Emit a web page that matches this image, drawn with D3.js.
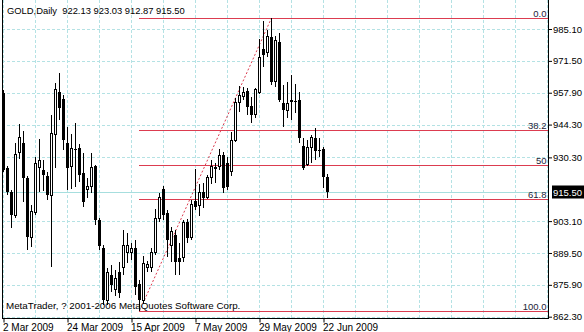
<!DOCTYPE html>
<html>
<head>
<meta charset="utf-8">
<script src="https://cdn.jsdelivr.net/npm/d3@7"></script>
<style>
  html, body { margin: 0; padding: 0; background: #fff; }
  svg { display: block; font-family: "Liberation Sans", Arial, sans-serif; }
</style>
</head>
<body>
<svg id="chart" width="584" height="332"></svg>
<script>
// daily bars, 2 Mar 2009 = bar 0
const opens = [957.8, 925.8, 915.5, 905.7, 932.2, 936.4, 921.5, 896.3, 906.6, 925.8,
  924.9, 922.4, 914.2, 939.9, 958.2, 955.2, 936.4, 926.2, 933.9, 934.3,
  923.6, 916.8, 917.7, 926.6, 903.6, 891.6, 869.4, 880.1, 873.7, 881.4,
  883.5, 889.5, 889.5, 891.6, 876.3, 869.4, 883.1, 883.1, 889.9, 904.4,
  916.8, 906.6, 892.9, 897.2, 887.4, 887.4, 902.7, 895.9, 911.7, 909.6,
  915.5, 913.0, 921.9, 926.2, 926.2, 931.3, 927.9, 924.1, 937.7, 953.9,
  956.1, 958.6, 952.2, 948.4, 958.2, 976.6, 974.9, 981.7, 962.5, 979.5,
  953.5, 950.5, 954.8, 954.4, 954.8, 935.2, 927.1, 934.7, 938.6, 933.5,
  933.9, 922.13];
const highs = [959.1, 926.6, 916.4, 936.4, 944.6, 941.6, 922.4, 910.0, 930.5, 938.1,
  929.2, 924.1, 948.4, 962.1, 966.3, 956.9, 943.3, 940.3, 945.0, 936.0,
  932.2, 921.5, 932.2, 927.1, 904.4, 892.9, 883.1, 884.4, 882.2, 885.7,
  899.3, 898.0, 893.8, 895.0, 878.0, 888.2, 886.1, 891.6, 908.3, 915.1,
  918.1, 907.9, 900.6, 899.3, 893.8, 903.6, 904.0, 912.1, 925.3, 918.9,
  919.4, 922.8, 929.2, 927.9, 933.9, 932.6, 930.5, 941.1, 955.6, 960.8,
  960.3, 959.9, 956.1, 959.9, 980.8, 988.5, 984.7, 989.8, 982.1, 983.4,
  961.2, 962.5, 965.5, 961.6, 958.2, 938.6, 937.7, 939.9, 942.8, 938.6,
  934.7, 923.03];
const lows = [924.1, 914.2, 900.2, 904.4, 929.6, 911.3, 890.8, 892.1, 905.7, 915.5,
  916.0, 912.1, 883.5, 925.8, 946.3, 933.5, 916.4, 916.8, 917.7, 919.8,
  909.1, 913.0, 915.1, 901.4, 890.8, 867.3, 867.3, 872.8, 871.1, 870.3,
  880.1, 885.2, 886.5, 871.6, 864.7, 867.7, 881.4, 881.4, 888.6, 902.7,
  903.6, 887.8, 885.7, 880.1, 880.1, 885.7, 893.8, 895.0, 907.9, 905.3,
  908.7, 912.5, 918.9, 919.4, 924.9, 915.1, 916.4, 922.4, 936.9, 949.7,
  954.8, 948.4, 945.0, 947.1, 957.4, 968.9, 973.1, 961.2, 960.3, 953.9,
  943.3, 947.1, 946.3, 949.2, 936.4, 924.9, 926.6, 927.9, 929.2, 930.5,
  917.2, 912.87];
const closes = [924.9, 915.5, 905.7, 931.7, 938.6, 921.5, 896.3, 907.0, 927.5, 928.8,
  922.8, 914.2, 940.3, 959.1, 951.4, 937.7, 925.8, 933.9, 933.5, 922.8,
  911.3, 917.7, 925.8, 903.6, 892.5, 869.4, 881.0, 875.8, 878.8, 872.4,
  892.9, 892.9, 891.2, 875.0, 869.4, 884.8, 884.4, 889.9, 904.4, 913.0,
  905.7, 895.0, 898.5, 885.7, 885.7, 902.7, 895.9, 910.4, 909.1, 915.5,
  913.0, 921.9, 926.2, 925.3, 930.9, 917.2, 917.7, 937.7, 953.9, 956.9,
  958.2, 951.8, 948.4, 959.1, 973.1, 974.0, 981.7, 962.5, 980.4, 954.8,
  950.5, 953.5, 953.9, 953.9, 938.6, 925.8, 934.7, 939.0, 933.0, 933.0,
  921.9, 915.50];

const dateTickBars = [0, 16, 32, 48, 64, 80];
const dateTickLabels = ["2 Mar 2009", "24 Mar 2009", "15 Apr 2009", "7 May 2009", "29 May 2009", "22 Jun 2009"];
const priceTicks = [985.10, 971.50, 957.90, 944.30, 930.30, 903.10, 889.50, 875.90, 862.30];

const fibLevels = [0, 38.2, 50, 61.8, 100];
const fibLabels = ["0.0", "38.2", "50", "61.8", "100.0"];
const fibLowBar = 34;   // swing low
const fibHighBar = 67;  // swing high

const title = "GOLD,Daily  922.13 923.03 912.87 915.50";
const copyright = "MetaTrader, ? 2001-2006 MetaQuotes Software Corp.";

// ---------- layout ----------
const plotLeft = 2, plotRight = 548, plotBottom = 318.5;
const fibColor = "#dc3c50";
const gridColor = "#b4e2e4";

const svg = d3.select("#chart");

const x = d3.scaleLinear().domain([0, 1]).range([3, 7]);           // 4 px per bar
const y = d3.scaleLinear().domain([862.3, 985.1]).range([316.7, 29]);

// grid
const gridBars = d3.range(0, 137, 8);
const grid = svg.append("g").attr("shape-rendering", "crispEdges");
grid.selectAll("line.v")
  .data(gridBars)
  .join("line")
  .attr("class", "v")
  .attr("x1", d => Math.round(x(d)) + 0.5)
  .attr("x2", d => Math.round(x(d)) + 0.5)
  .attr("y1", 0).attr("y2", plotBottom)
  .attr("stroke", gridColor)
  .attr("stroke-dasharray", "3,2");

grid.selectAll("line.h")
  .data(priceTicks)
  .join("line")
  .attr("class", "h")
  .attr("x1", plotLeft).attr("x2", plotRight)
  .attr("y1", d => Math.round(y(d)) + 0.5)
  .attr("y2", d => Math.round(y(d)) + 0.5)
  .attr("stroke", gridColor)
  .attr("stroke-dasharray", "3,2");

// bid line
const last = closes[closes.length - 1];
svg.append("line")
  .attr("shape-rendering", "crispEdges")
  .attr("x1", plotLeft).attr("x2", plotRight)
  .attr("y1", Math.round(y(last)) + 0.5).attr("y2", Math.round(y(last)) + 0.5)
  .attr("stroke", "#a6dede");

// fibonacci
const fibHi = highs[fibHighBar], fibLo = lows[fibLowBar];
const fibs = fibLevels.map((lv, i) => ({ label: fibLabels[i], price: fibHi - lv / 100 * (fibHi - fibLo) }));

svg.append("g")
  .attr("shape-rendering", "crispEdges")
  .selectAll("line")
  .data(fibs)
  .join("line")
  .attr("x1", x(fibLowBar)).attr("x2", plotRight)
  .attr("y1", d => Math.round(y(d.price)) + 0.5)
  .attr("y2", d => Math.round(y(d.price)) + 0.5)
  .attr("stroke", fibColor);

svg.append("g").selectAll("text")
  .data(fibs)
  .join("text")
  .attr("x", plotRight - 1.5)
  .attr("y", d => Math.round(y(d.price)) - 1.5)
  .attr("text-anchor", "end")
  .style("font-size", "9.5px")
  .style("fill", "#242438")
  .text(d => d.label);

svg.append("line")
  .attr("x1", x(fibLowBar) + 0.5).attr("y1", y(fibLo))
  .attr("x2", x(fibHighBar) + 0.5).attr("y2", y(fibHi))
  .attr("stroke", fibColor)
  .attr("stroke-dasharray", "2,2");

// candles
const bars = opens.map((o, i) => ({ i, o, h: highs[i], l: lows[i], c: closes[i] }));
const candles = svg.append("g").attr("shape-rendering", "crispEdges");

candles.selectAll("line.wick")
  .data(bars)
  .join("line")
  .attr("class", "wick")
  .attr("x1", d => x(d.i) + 0.5).attr("x2", d => x(d.i) + 0.5)
  .attr("y1", d => y(d.h)).attr("y2", d => y(d.l))
  .attr("stroke", "#000");

candles.selectAll("rect.down")
  .data(bars.filter(d => d.c <= d.o))
  .join("rect")
  .attr("class", "down")
  .attr("x", d => x(d.i) - 1)
  .attr("width", 3)
  .attr("y", d => y(d.o))
  .attr("height", d => Math.max(1, y(d.c) - y(d.o)))
  .attr("fill", "#000");

candles.selectAll("rect.up")
  .data(bars.filter(d => d.c > d.o))
  .join("rect")
  .attr("class", "up")
  .attr("x", d => x(d.i) - 0.5)
  .attr("width", 2)
  .attr("y", d => y(d.c))
  .attr("height", d => Math.max(1, y(d.o) - y(d.c)))
  .attr("fill", "#fff")
  .attr("stroke", "#000");

// frame
svg.append("path")
  .attr("shape-rendering", "crispEdges")
  .attr("d", `M${plotLeft + 0.5},0V${plotBottom}H${plotRight + 0.5}V0`)
  .attr("fill", "none")
  .attr("stroke", "#000");

// axes
const yAxis = d3.axisRight(y)
  .tickValues(priceTicks)
  .tickFormat(d3.format(".2f"))
  .tickSize(3)
  .tickPadding(1);

svg.append("g")
  .attr("transform", `translate(${plotRight + 1},0)`)
  .call(yAxis)
  .call(g => g.select(".domain").remove())
  .call(g => g.selectAll("text").style("font-size", "9.5px").style("fill", "#000"));

const xAxis = d3.axisBottom(x)
  .tickValues(dateTickBars)
  .tickFormat((d, i) => dateTickLabels[i])
  .tickSize(4)
  .tickPadding(1);

svg.append("g")
  .attr("transform", `translate(0.5,${plotBottom})`)
  .call(xAxis)
  .call(g => g.select(".domain").remove())
  .call(g => g.selectAll("text")
    .attr("text-anchor", "start")
    .attr("dx", -1)
    .style("font-size", "10px")
    .style("fill", "#000"));

// current price tag
const tagY = Math.round(y(last));
svg.append("rect")
  .attr("x", 552).attr("y", tagY - 6.5)
  .attr("width", 32).attr("height", 13)
  .attr("fill", "#000");
svg.append("text")
  .attr("x", 553).attr("y", tagY + 4)
  .style("font-size", "9.5px")
  .style("fill", "#fff")
  .text(d3.format(".2f")(last));

// texts
svg.append("text")
  .attr("x", 7).attr("y", 14)
  .attr("xml:space", "preserve")
  .style("white-space", "pre")
  .style("font-size", "9.4px")
  .style("fill", "#000")
  .text(title);

svg.append("text")
  .attr("x", 6).attr("y", 309)
  .style("font-size", "9.8px")
  .style("fill", "#000")
  .text(copyright);
</script>
</body>
</html>
